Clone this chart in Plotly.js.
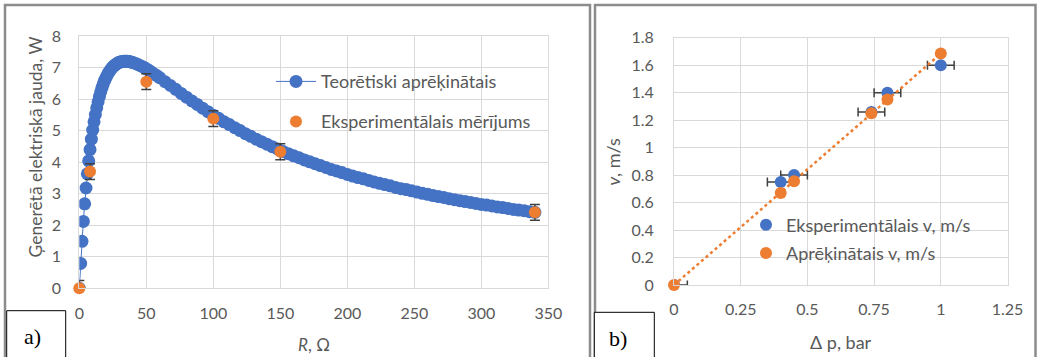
<!DOCTYPE html>
<html><head><meta charset="utf-8">
<script src="https://cdn.plot.ly/plotly-3.0.1.min.js"></script>
<style>html,body{margin:0;padding:0;background:#fff;} #chart{width:1037px;height:357px;}</style>
</head><body><div id="chart"></div>
<script>
// ---- Panel a) : generated electric power vs load resistance ----
const R_theory = [0,1,2,3,4,5,6,7,8,9,10,11,12,13,14,15,16,17,18,19,20,21,22,23,24,25,26,27,28,29,30,31,32,33,34,35,36,37,38,39,40,
  42,44,46,48,50,52,54,56,58,60,
  64,68,72,76,80,84,88,92,96,100,104,108,112,116,120,124,128,132,136,140,144,148,152,156,160,164,168,172,176,180,
  184,188,192,196,200,204,208,212,216,220,224,228,232,236,240,244,248,252,256,260,264,268,272,276,280,
  284,288,292,296,300,304,308,312,316,320,324,328,332,336,340];
const P_theory = [0,0.79,1.49,2.12,2.68,3.18,3.63,4.04,4.40,4.73,5.02,5.28,5.51,5.72,5.91,6.08,6.23,6.37,6.49,6.60,6.69,6.77,6.85,6.91,6.97,7.02,7.06,7.09,7.12,7.15,7.17,7.18,7.19,7.20,7.20,7.20,7.20,7.19,7.18,7.17,7.16,
  7.13,7.09,7.05,7.01,6.96,6.91,6.85,6.79,6.74,6.68,
  6.55,6.43,6.31,6.18,6.06,5.94,5.83,5.71,5.60,5.49,5.39,5.28,5.19,5.09,5.00,4.90,4.82,4.73,4.65,4.57,4.49,4.42,4.34,4.27,4.20,4.14,4.07,4.01,3.95,3.89,
  3.83,3.77,3.72,3.67,3.61,3.56,3.51,3.47,3.42,3.37,3.33,3.29,3.25,3.20,3.16,3.13,3.09,3.05,3.01,2.98,2.94,2.91,2.88,2.84,2.81,
  2.78,2.75,2.72,2.69,2.66,2.64,2.61,2.58,2.56,2.53,2.50,2.48,2.46,2.43,2.41];
const R_exp = [0, 8, 50, 100, 150, 340];
const P_exp = [0, 3.70, 6.55, 5.38, 4.33, 2.41];
const P_err = [0.25, 0.25, 0.25, 0.25, 0.25, 0.25];
const R_tickvals = [0, 50, 100, 150, 200, 250, 300, 350];
const R_ticktext = ['0', '50', '100', '150', '200', '250', '300', '350'];
const P_tickvals = [0, 1, 2, 3, 4, 5, 6, 7, 8];
const P_ticktext = ['0', '1', '2', '3', '4', '5', '6', '7', '8'];

// ---- Panel b) : velocity vs pressure difference ----
const dp = [0, 0.40, 0.45, 0.74, 0.80, 1.00];
const v_exp = [0, 0.75, 0.80, 1.26, 1.40, 1.60];
const v_calc = [0, 0.67, 0.755, 1.25, 1.35, 1.685];
const dp_err = [0.05, 0.05, 0.05, 0.05, 0.05, 0.05];
const trend_x = [0, 1.0];
const trend_y = [0, 1.684];
const dp_tickvals = [0, 0.25, 0.5, 0.75, 1, 1.25];
const dp_ticktext = ['0', '0.25', '0.5', '0.75', '1', '1.25'];
const v_tickvals = [0, 0.2, 0.4, 0.6, 0.8, 1, 1.2, 1.4, 1.6, 1.8];
const v_ticktext = ['0', '0.2', '0.4', '0.6', '0.8', '1', '1.2', '1.4', '1.6', '1.8'];

const BLUE = '#4472C4', ORANGE = '#ED7D31', TXT = '#595959', GRID = '#d9d9d9', ERR = '#404040';
const FONT = 'Lato, "Open Sans", sans-serif';
const W = 1037, H = 357;
const px = v => v / W, py = v => (H - v) / H;

const traces = [
  {x: R_theory, y: P_theory, xaxis: 'x', yaxis: 'y', mode: 'lines+markers', name: 'Teorētiski aprēķinātais',
   line: {color: BLUE, width: 1}, marker: {color: BLUE, size: 13}, legend: 'legend', cliponaxis: true},
  {x: R_exp, y: P_exp, xaxis: 'x', yaxis: 'y', mode: 'markers', showlegend: false, hoverinfo: 'skip',
   marker: {color: ORANGE, size: 12, opacity: 0}, cliponaxis: true,
   error_y: {type: 'data', array: P_err, visible: true, color: ERR, thickness: 1.5, width: 5}},
  {x: R_exp, y: P_exp, xaxis: 'x', yaxis: 'y', mode: 'markers', name: 'Eksperimentālais mērījums',
   marker: {color: ORANGE, size: 12}, legend: 'legend2', cliponaxis: false},

  {x: dp, y: v_exp, xaxis: 'x2', yaxis: 'y2', mode: 'markers', name: 'Eksperimentālais v, m/s',
   marker: {color: BLUE, size: 12}, legend: 'legend3', cliponaxis: true,
   error_x: {type: 'data', array: dp_err, visible: true, color: ERR, thickness: 1.5, width: 4.5}},
  {x: trend_x, y: trend_y, xaxis: 'x2', yaxis: 'y2', mode: 'lines', showlegend: false, hoverinfo: 'skip',
   line: {color: ORANGE, width: 2.5, dash: 'dot'}},
  {x: dp, y: v_calc, xaxis: 'x2', yaxis: 'y2', mode: 'markers', name: 'Aprēķinātais v, m/s',
   marker: {color: ORANGE, size: 12}, legend: 'legend4', cliponaxis: false}
];

function axisBase(extra) {
  return Object.assign({
    showgrid: true, gridcolor: GRID, gridwidth: 1, zeroline: false,
    showline: true, linecolor: GRID, linewidth: 1, mirror: true,
    ticks: '', tickmode: 'array', tickfont: {family: FONT, size: 16, color: TXT},
    fixedrange: true
  }, extra);
}

const legendBase = {bgcolor: 'rgba(0,0,0,0)', borderwidth: 0, xanchor: 'left', yanchor: 'middle',
  font: {family: FONT, size: 18, color: TXT}};

function label(text, x, y, size, extra) {
  return Object.assign({text: text, xref: 'paper', yref: 'paper', x: px(x), y: py(y),
    xanchor: 'center', yanchor: 'middle', showarrow: false,
    font: {family: FONT, size: size, color: TXT}}, extra || {});
}

const SERIF = '"Liberation Serif", "Times New Roman", serif';

const layout = {
  width: W, height: H,
  margin: {l: 0, r: 0, t: 0, b: 0},
  paper_bgcolor: '#ffffff', plot_bgcolor: '#ffffff',
  font: {family: FONT, color: TXT},
  xaxis: axisBase({domain: [px(79.3), px(548.3)], range: [0, 350], anchor: 'y',
    tickvals: R_tickvals, ticktext: R_ticktext, ticklabelstandoff: 10}),
  yaxis: axisBase({domain: [py(288.3), py(36)], range: [0, 8], anchor: 'x',
    tickvals: P_tickvals, ticktext: P_ticktext, ticklabelstandoff: 14}),
  xaxis2: axisBase({domain: [px(674), px(1007.5)], range: [0, 1.25], anchor: 'y2',
    tickvals: dp_tickvals, ticktext: dp_ticktext, ticklabelstandoff: 10}),
  yaxis2: axisBase({domain: [py(285), py(37.7)], range: [0, 1.8], anchor: 'x2',
    tickvals: v_tickvals, ticktext: v_ticktext, ticklabelstandoff: 16}),
  legend: Object.assign({}, legendBase, {x: px(271), y: py(81.7), itemwidth: 40}),
  legend2: Object.assign({}, legendBase, {x: px(271), y: py(121.7), itemwidth: 40}),
  legend3: Object.assign({}, legendBase, {x: px(746), y: py(225)}),
  legend4: Object.assign({}, legendBase, {x: px(746), y: py(253.3)}),
  shapes: [
    {type: 'rect', xref: 'paper', yref: 'paper', x0: px(5), x1: px(590), y0: -0.1, y1: py(5),
     line: {color: '#8c8c8c', width: 2.5}, fillcolor: 'rgba(0,0,0,0)'},
    {type: 'rect', xref: 'paper', yref: 'paper', x0: px(595), x1: px(1035.5), y0: -0.1, y1: py(5),
     line: {color: '#8c8c8c', width: 2.5}, fillcolor: 'rgba(0,0,0,0)'},
    {type: 'rect', xref: 'paper', yref: 'paper', x0: px(6.7), x1: px(65.7), y0: -0.1, y1: py(310.7),
     line: {color: '#000000', width: 1}, fillcolor: '#ffffff'},
    {type: 'rect', xref: 'paper', yref: 'paper', x0: px(594.3), x1: px(654.3), y0: -0.1, y1: py(312.3),
     line: {color: '#000000', width: 1}, fillcolor: '#ffffff'}
  ],
  annotations: [
    label('Ģenerētā elektriskā jauda, W', 35, 147.5, 17.5, {textangle: -90}),
    label('<i>R</i>, Ω', 313.8, 344, 17),
    label('<i>v</i>, m/s', 613, 161.5, 18, {textangle: -90}),
    label('Δ p, bar', 840.7, 341.7, 18),
    label('a)', 32, 336.7, 22, {font: {family: SERIF, size: 22, color: '#000000'}}),
    label('b)', 618, 338, 22, {font: {family: SERIF, size: 22, color: '#000000'}})
  ]
};

Plotly.newPlot('chart', traces, layout, {displayModeBar: false, staticPlot: true});
</script></body></html>
